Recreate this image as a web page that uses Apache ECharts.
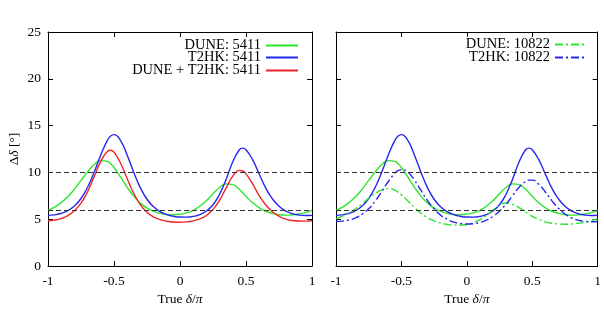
<!DOCTYPE html>
<html>
<head>
<meta charset="utf-8">
<script src="https://cdn.jsdelivr.net/npm/echarts@6/dist/echarts.min.js"></script>
<style>
  html, body { margin: 0; padding: 0; background: #fff; }
  #chart { width: 604px; height: 324px; }
</style>
</head>
<body>
<div id="chart"></div>
<script>
// True delta / pi sample points (two extra points near peak tops)
var deltaTrue = [-1, -0.95, -0.9, -0.85, -0.8, -0.75, -0.7, -0.65, -0.6, -0.55, -0.525, -0.5,
                 -0.45, -0.4, -0.35, -0.3, -0.25, -0.2, -0.15, -0.1, -0.05, 0,
                 0.05, 0.1, 0.15, 0.2, 0.25, 0.3, 0.35, 0.4, 0.45, 0.475, 0.5,
                 0.55, 0.6, 0.65, 0.7, 0.75, 0.8, 0.85, 0.9, 0.95, 1];

// precision on delta (degrees)
var dune5411 = [5.94, 6.29, 6.77, 7.41, 8.21, 9.14, 10.06, 10.84, 11.26, 11.18, 10.91, 10.52,
                9.50, 8.41, 7.46, 6.72, 6.19, 5.86, 5.62, 5.50, 5.48, 5.53,
                5.68, 5.95, 6.39, 6.98, 7.71, 8.39, 8.77, 8.69, 8.17, 7.83, 7.46,
                6.75, 6.23, 5.85, 5.62, 5.48, 5.44, 5.47, 5.55, 5.70, 5.94];
var t2hk5411 = [5.41, 5.46, 5.63, 5.92, 6.42, 7.21, 8.42, 10.04, 11.87, 13.42, 13.88, 14.04,
                13.40, 11.84, 9.99, 8.35, 7.13, 6.32, 5.80, 5.49, 5.31, 5.23,
                5.22, 5.30, 5.49, 5.88, 6.54, 7.67, 9.28, 11.14, 12.42, 12.59, 12.42,
                11.36, 9.83, 8.32, 7.18, 6.38, 5.88, 5.60, 5.45, 5.39, 5.41];
var both5411 = [4.83, 4.91, 5.07, 5.38, 5.90, 6.72, 7.95, 9.56, 11.18, 12.24, 12.36, 12.16,
                10.98, 9.33, 7.74, 6.54, 5.74, 5.24, 4.95, 4.78, 4.70, 4.68,
                4.71, 4.82, 5.03, 5.40, 6.05, 7.03, 8.35, 9.60, 10.22, 10.15, 9.84,
                8.77, 7.52, 6.52, 5.80, 5.32, 5.00, 4.86, 4.80, 4.79, 4.83];
var dune10822 = [5.06, 5.34, 5.68, 6.12, 6.67, 7.23, 7.74, 8.13, 8.27, 8.10, 7.88, 7.60,
                 6.95, 6.24, 5.64, 5.17, 4.82, 4.59, 4.44, 4.37, 4.36, 4.44,
                 4.62, 4.94, 5.40, 5.99, 6.51, 6.73, 6.58, 6.24, 5.76, 5.52, 5.30,
                 4.98, 4.72, 4.57, 4.49, 4.46, 4.49, 4.56, 4.67, 4.84, 5.06];
var t2hk10822 = [4.76, 4.80, 4.92, 5.15, 5.54, 6.12, 6.93, 7.96, 9.03, 9.92, 10.19, 10.30,
                 10.01, 9.17, 8.07, 6.98, 6.11, 5.43, 4.99, 4.69, 4.55, 4.49,
                 4.52, 4.65, 4.90, 5.29, 5.86, 6.61, 7.52, 8.42, 9.04, 9.18, 9.18,
                 8.74, 7.91, 6.99, 6.17, 5.57, 5.15, 4.90, 4.77, 4.72, 4.76];

var thresholds = [6, 10];

var FONT = 'Liberation Serif';
var FS = 13.5;
var GREEN = '#2ee52e', BLUE = '#2626f0', RED = '#f02626';
var DASHDOT = [8, 3, 2, 3];

function pairs(ys) {
    return deltaTrue.map(function (x, i) { return [x, ys[i]]; });
}

function xAxes(grid) {
    var base = {
        type: 'value', gridIndex: grid, min: -1, max: 1, interval: 0.5,
        axisLine: { onZero: false, lineStyle: { color: '#000', width: 1 } },
        axisTick: { inside: true, length: 5, lineStyle: { color: '#000' } },
        splitLine: { show: false }
    };
    var bottom = Object.assign({}, base, {
        position: 'bottom',
        axisLabel: { color: '#000', fontFamily: FONT, fontSize: FS, margin: 8,
                     formatter: function (v) { return String(v); } },
        name: 'True {i|δ}/{i|π}',
        nameLocation: 'middle',
        nameGap: 24,
        nameTextStyle: { color: '#000', fontFamily: FONT, fontSize: FS,
                         rich: { i: { fontFamily: FONT, fontSize: FS, fontStyle: 'italic', color: '#000' } } }
    });
    var top = Object.assign({}, base, { position: 'top', axisLabel: { show: false } });
    return [bottom, top];
}

function yAxes(grid, labels) {
    var base = {
        type: 'value', gridIndex: grid, min: 0, max: 25, interval: 5,
        axisLine: { show: true, onZero: false, lineStyle: { color: '#000', width: 1 } },
        axisTick: { show: true, inside: true, length: 5, lineStyle: { color: '#000' } },
        splitLine: { show: false }
    };
    var left = Object.assign({}, base, {
        position: 'left',
        axisLabel: { show: labels, color: '#000', fontFamily: FONT, fontSize: FS, margin: 7 }
    });
    if (labels) {
        left.name = 'Δ{i|δ} [°]';
        left.nameLocation = 'middle';
        left.nameGap = 27;
        left.nameTextStyle = { color: '#000', fontFamily: FONT, fontSize: FS,
                               rich: { i: { fontFamily: FONT, fontSize: FS, fontStyle: 'italic', color: '#000' } } };
    }
    var right = Object.assign({}, base, { position: 'right', axisLabel: { show: false } });
    return [left, right];
}

function curve(name, ys, color, axis, dash, extra) {
    var s = {
        name: name, type: 'line', data: pairs(ys),
        xAxisIndex: axis, yAxisIndex: axis,
        showSymbol: false, symbol: 'none', smooth: 0.5,
        lineStyle: { color: color, width: 1.4, type: dash || 'solid' },
        itemStyle: { color: color },
        silent: true
    };
    return Object.assign(s, extra || {});
}

var thresholdLines = {
    silent: true, symbol: 'none', label: { show: false },
    lineStyle: { type: [5, 3], color: '#333', width: 1.2 },
    data: thresholds.map(function (v) { return { yAxis: v }; })
};

// one legend per entry so every row is right-aligned with its line sample on the right
function legendItem(name, right, top) {
    return {
        data: [name], orient: 'vertical', align: 'right', right: right, top: top,
        padding: 0, itemWidth: 32, itemHeight: 10, selectedMode: false,
        itemStyle: { opacity: 0 },
        textStyle: { color: '#000', fontFamily: FONT, fontSize: 14.5, lineHeight: 13 }
    };
}

var chart = echarts.init(document.getElementById('chart'));
chart.setOption({
    animation: false,
    backgroundColor: '#fff',
    grid: [
        { left: 48, top: 32, width: 264, height: 234 },
        { left: 336, top: 32, width: 263, height: 234 }
    ],
    xAxis: xAxes(0).concat(xAxes(1)),
    yAxis: yAxes(0, true).concat(yAxes(1, false)),
    legend: [
        legendItem('DUNE: 5411', 305, 38),
        legendItem('T2HK: 5411', 305, 50),
        legendItem('DUNE + T2HK: 5411', 305, 63),
        legendItem('DUNE: 10822', 16, 37),
        legendItem('T2HK: 10822', 16, 50)
    ],
    series: [
        curve('DUNE: 5411', dune5411, GREEN, 0, null, { markLine: thresholdLines }),
        curve('T2HK: 5411', t2hk5411, BLUE, 0),
        curve('DUNE + T2HK: 5411', both5411, RED, 0),
        curve('DUNE 5411 (right)', dune5411, GREEN, 2, null, { markLine: thresholdLines }),
        curve('T2HK 5411 (right)', t2hk5411, BLUE, 2),
        curve('DUNE: 10822', dune10822, GREEN, 2, DASHDOT),
        curve('T2HK: 10822', t2hk10822, BLUE, 2, DASHDOT)
    ]
});
</script>
</body>
</html>
